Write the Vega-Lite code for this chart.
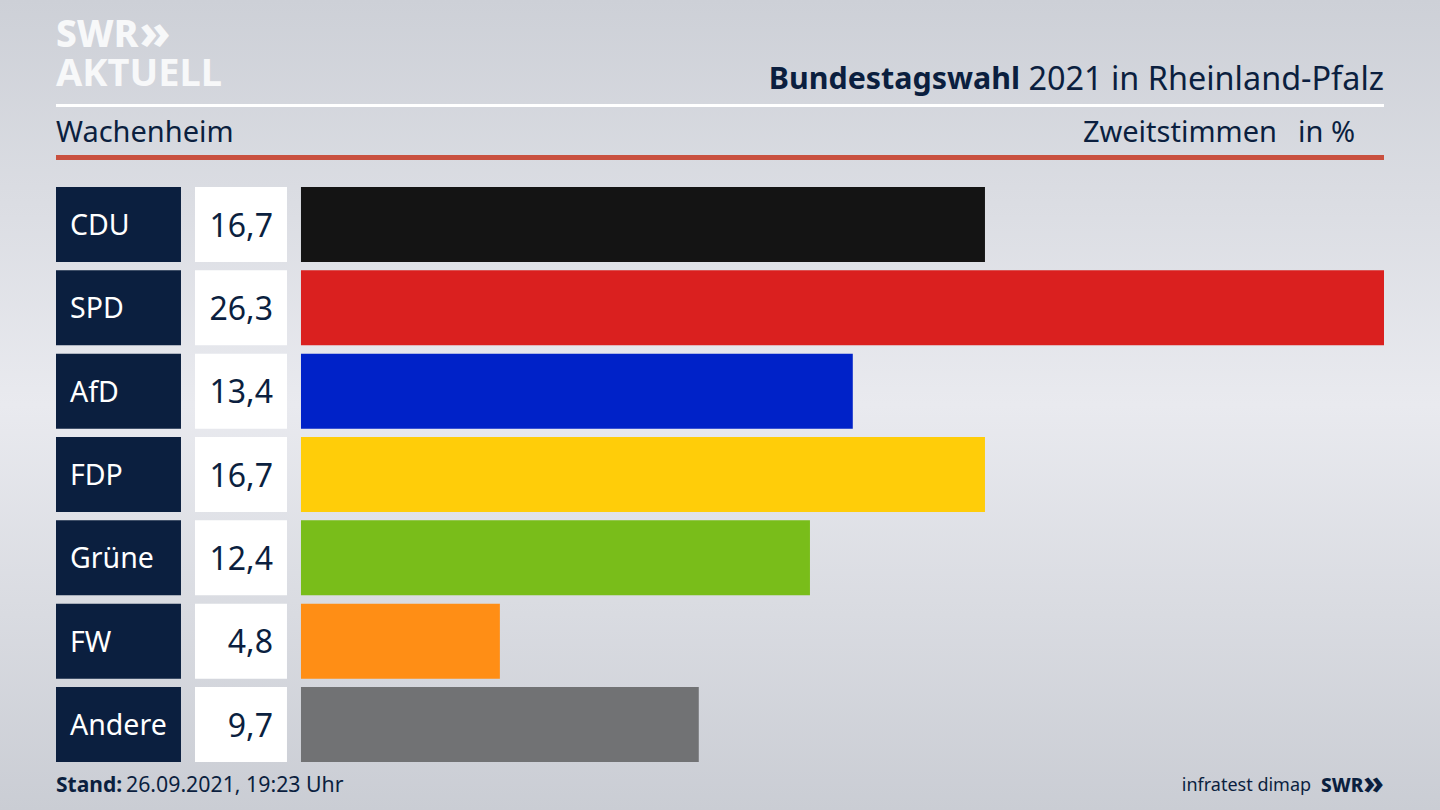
{
  "$schema": "https://vega.github.io/schema/vega-lite/v6.json",
  "width": 1440,
  "height": 810,
  "padding": 0,
  "autosize": {"type": "fit", "contains": "padding"},
  "datasets": {
    "results": [
      {"party": "CDU", "share": 16.61, "label": "16,7"},
      {"party": "SPD", "share": 26.3, "label": "26,3"},
      {"party": "AfD", "share": 13.4, "label": "13,4"},
      {"party": "FDP", "share": 16.61, "label": "16,7"},
      {"party": "Grüne", "share": 12.36, "label": "12,4"},
      {"party": "FW", "share": 4.83, "label": "4,8"},
      {"party": "Andere", "share": 9.66, "label": "9,7"}
    ]
  },
  "data": {"name": "results"},
  "layer": [
    {
      "data": {"values": [{}]},
      "mark": {
        "type": "rect",
        "color": {
          "gradient": "linear", "x1": 0, "y1": 0, "x2": 0, "y2": 1,
          "stops": [
            {"offset": 0, "color": "#cdd0d7"},
            {"offset": 0.5, "color": "#e9eaef"},
            {"offset": 1, "color": "#cacdd4"}
          ]
        }
      }
    },
    {
      "mark": {"type": "bar", "color": "#0b1f3f"},
      "encoding": {
        "x": {"datum": -5.949, "type": "quantitative", "scale": {"domain": [-7.309, 27.66], "nice": false, "zero": false}, "axis": null},
        "x2": {"datum": -2.914},
        "y": {"field": "party", "type": "nominal", "scale": {"domain": ["head2", "head1", "CDU", "SPD", "AfD", "FDP", "Grüne", "FW", "Andere", "foot"], "range": [20.33, 845.33], "paddingInner": 0.1, "paddingOuter": 0}, "axis": null}
      }
    },
    {
      "mark": {"type": "bar", "color": "#ffffff"},
      "encoding": {
        "x": {"datum": -2.574, "type": "quantitative"},
        "x2": {"datum": -0.34},
        "y": {"field": "party", "type": "nominal"}
      }
    },
    {
      "mark": {"type": "bar"},
      "encoding": {
        "x": {"field": "share", "type": "quantitative"},
        "x2": {"datum": 0},
        "y": {"field": "party", "type": "nominal"},
        "color": {
          "field": "party", "type": "nominal", "legend": null,
          "scale": {
            "domain": ["CDU", "SPD", "AfD", "FDP", "Grüne", "FW", "Andere"],
            "range": ["#141414", "#da201f", "#0022c8", "#ffcd09", "#79bd1a", "#ff8e15", "#717274"]
          }
        }
      }
    },
    {
      "mark": {"type": "text", "align": "left", "font": "Noto Sans", "fontSize": 28.5, "color": "#ffffff"},
      "encoding": {
        "x": {"datum": -5.609, "type": "quantitative"},
        "y": {"field": "party", "type": "nominal", "bandPosition": 0.52},
        "text": {"field": "party"}
      }
    },
    {
      "mark": {"type": "text", "align": "right", "font": "Noto Sans", "fontSize": 32, "color": "#0b1f3f"},
      "encoding": {
        "x": {"datum": -0.68, "type": "quantitative"},
        "y": {"field": "party", "type": "nominal", "bandPosition": 0.527},
        "text": {"field": "label"}
      }
    },
    {
      "data": {"values": [{"text": "SWR"}]},
      "mark": {"type": "text", "align": "left", "font": "Noto Sans", "fontWeight": 800, "fontSize": 37, "color": "#f7f8f9"},
      "encoding": {
        "x": {"datum": -5.949, "type": "quantitative"},
        "y": {"datum": "head2", "bandPosition": 0.209},
        "text": {"field": "text"}
      }
    },
    {
      "data": {"values": [{"text": "»"}]},
      "mark": {"type": "text", "align": "left", "font": "Noto Sans", "fontWeight": 800, "fontSize": 48, "color": "#f7f8f9"},
      "encoding": {
        "x": {"datum": -3.92, "type": "quantitative"},
        "y": {"datum": "head2", "bandPosition": 0.2},
        "text": {"field": "text"}
      }
    },
    {
      "data": {"values": [{"text": "AKTUELL"}]},
      "mark": {"type": "text", "align": "left", "font": "Noto Sans", "fontWeight": 700, "fontSize": 38, "color": "#f7f8f9"},
      "encoding": {
        "x": {"datum": -5.949, "type": "quantitative"},
        "y": {"datum": "head2", "bandPosition": 0.729},
        "text": {"field": "text"}
      }
    },
    {
      "data": {"values": [{"text": "Bundestagswahl"}]},
      "mark": {"type": "text", "align": "right", "font": "Noto Sans", "fontWeight": 700, "fontSize": 30.4, "color": "#0b1f3f"},
      "encoding": {
        "x": {"datum": 17.46, "type": "quantitative"},
        "y": {"datum": "head2", "bandPosition": 0.796},
        "text": {"field": "text"}
      }
    },
    {
      "data": {"values": [{"text": "2021 in Rheinland-Pfalz"}]},
      "mark": {"type": "text", "align": "right", "font": "Noto Sans", "fontSize": 32.4, "color": "#0b1f3f"},
      "encoding": {
        "x": {"datum": 26.3, "type": "quantitative"},
        "y": {"datum": "head2", "bandPosition": 0.796},
        "text": {"field": "text"}
      }
    },
    {
      "data": {"values": [{}]},
      "mark": {"type": "rule", "color": "#ffffff", "strokeWidth": 3},
      "encoding": {
        "x": {"datum": -5.949, "type": "quantitative"},
        "x2": {"datum": 26.3},
        "y": {"datum": "head1", "bandPosition": 0.0244}
      }
    },
    {
      "data": {"values": [{}]},
      "mark": {"type": "rule", "color": "#c9503f", "strokeWidth": 5},
      "encoding": {
        "x": {"datum": -5.949, "type": "quantitative"},
        "x2": {"datum": 26.3},
        "y": {"datum": "head1", "bandPosition": 0.718}
      }
    },
    {
      "data": {"values": [{"text": "Wachenheim"}]},
      "mark": {"type": "text", "align": "left", "font": "Noto Sans", "fontSize": 29, "color": "#0b1f3f"},
      "encoding": {
        "x": {"datum": -5.949, "type": "quantitative"},
        "y": {"datum": "head1", "bandPosition": 0.395},
        "text": {"field": "text"}
      }
    },
    {
      "data": {"values": [{"text": "Zweitstimmen"}]},
      "mark": {"type": "text", "align": "right", "font": "Noto Sans", "fontSize": 29, "color": "#0b1f3f"},
      "encoding": {
        "x": {"datum": 23.7, "type": "quantitative"},
        "y": {"datum": "head1", "bandPosition": 0.395},
        "text": {"field": "text"}
      }
    },
    {
      "data": {"values": [{"text": "in %"}]},
      "mark": {"type": "text", "align": "right", "font": "Noto Sans", "fontSize": 29, "color": "#0b1f3f"},
      "encoding": {
        "x": {"datum": 25.6, "type": "quantitative"},
        "y": {"datum": "head1", "bandPosition": 0.395},
        "text": {"field": "text"}
      }
    },
    {
      "data": {"values": [{"text": "Stand:"}]},
      "mark": {"type": "text", "align": "left", "font": "Noto Sans", "fontWeight": 700, "fontSize": 21, "color": "#0b1f3f"},
      "encoding": {
        "x": {"datum": -5.949, "type": "quantitative"},
        "y": {"datum": "foot", "bandPosition": 0.21},
        "text": {"field": "text"}
      }
    },
    {
      "data": {"values": [{"text": "26.09.2021, 19:23 Uhr"}]},
      "mark": {"type": "text", "align": "left", "font": "Noto Sans", "fontSize": 21.3, "color": "#0b1f3f"},
      "encoding": {
        "x": {"datum": -4.25, "type": "quantitative"},
        "y": {"datum": "foot", "bandPosition": 0.21},
        "text": {"field": "text"}
      }
    },
    {
      "data": {"values": [{"text": "infratest dimap"}]},
      "mark": {"type": "text", "align": "right", "font": "Noto Sans", "fontSize": 18, "color": "#0b1f3f"},
      "encoding": {
        "x": {"datum": 24.53, "type": "quantitative"},
        "y": {"datum": "foot", "bandPosition": 0.21},
        "text": {"field": "text"}
      }
    },
    {
      "data": {"values": [{"text": "SWR"}]},
      "mark": {"type": "text", "align": "right", "font": "Noto Sans", "fontWeight": 800, "fontSize": 19, "color": "#0b1f3f"},
      "encoding": {
        "x": {"datum": 25.8, "type": "quantitative"},
        "y": {"datum": "foot", "bandPosition": 0.21},
        "text": {"field": "text"}
      }
    },
    {
      "data": {"values": [{"text": "»"}]},
      "mark": {"type": "text", "align": "right", "font": "Noto Sans", "fontWeight": 800, "fontSize": 32, "color": "#0b1f3f"},
      "encoding": {
        "x": {"datum": 26.3, "type": "quantitative"},
        "y": {"datum": "foot", "bandPosition": 0.18},
        "text": {"field": "text"}
      }
    }
  ],
  "config": {"view": {"stroke": null}}
}
